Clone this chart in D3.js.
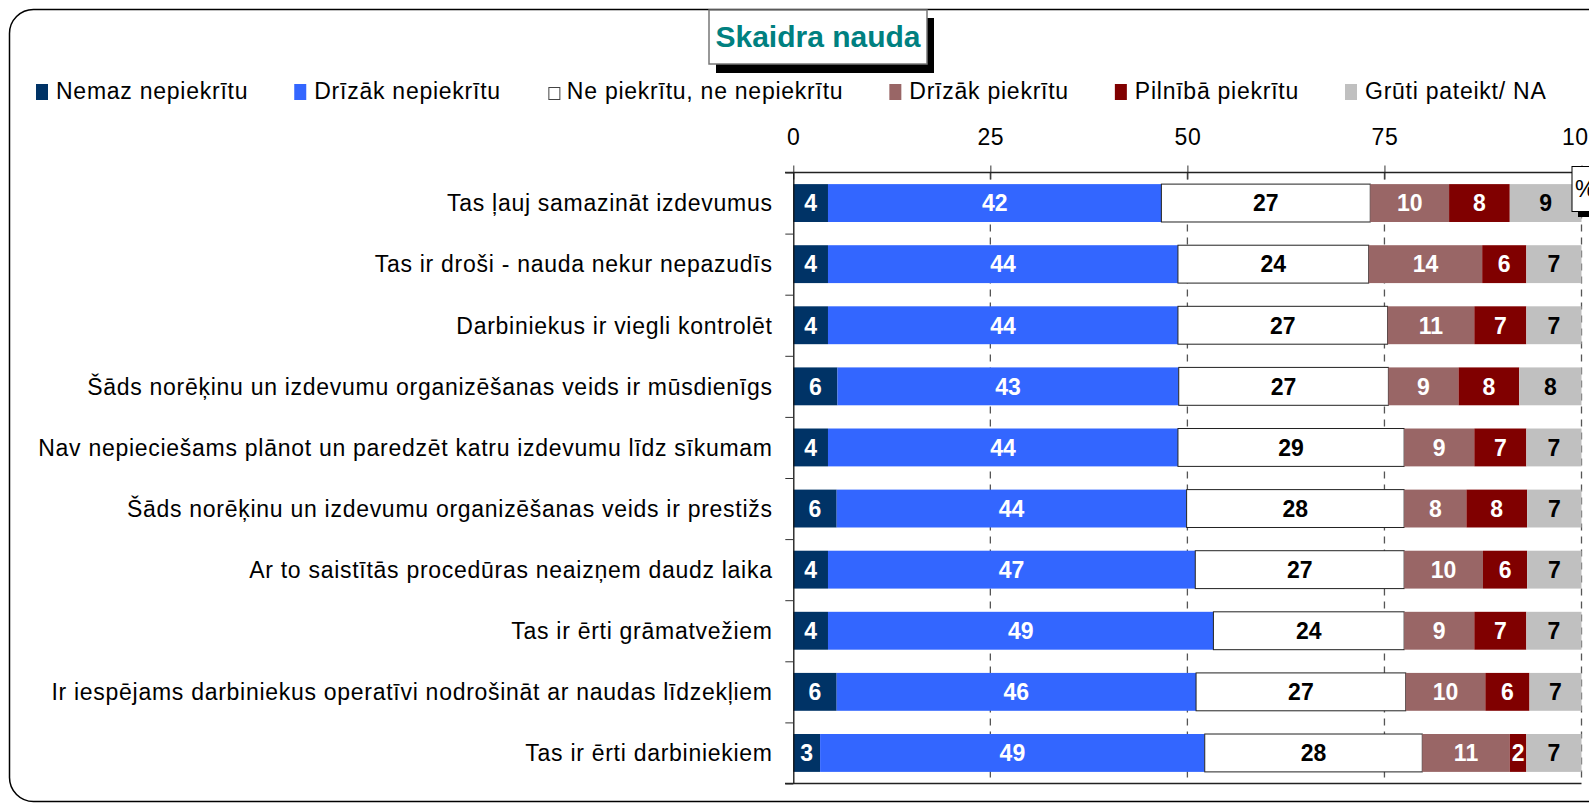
<!DOCTYPE html>
<html>
  <head>
    <meta charset="utf-8">
    <script src="https://d3js.org/d3.v7.min.js"></script>
    <style>
      body { margin: 0; background: #fff; }
      text { font-family: "Liberation Sans", Arial, sans-serif; }
    </style>
  </head>
  <body>
    <script>
      // data (bar lengths in %, labels are the rounded values)
      var categories = [
        "Tas ļauj samazināt izdevumus",
        "Tas ir droši - nauda nekur nepazudīs",
        "Darbiniekus ir viegli kontrolēt",
        "Šāds norēķinu un izdevumu organizēšanas veids ir mūsdienīgs",
        "Nav nepieciešams plānot un paredzēt katru izdevumu līdz sīkumam",
        "Šāds norēķinu un izdevumu organizēšanas veids ir prestižs",
        "Ar to saistītās procedūras neaizņem daudz laika",
        "Tas ir ērti grāmatvežiem",
        "Ir iespējams darbiniekus operatīvi nodrošināt ar naudas līdzekļiem",
        "Tas ir ērti darbiniekiem"
      ];
      var seriesNames = ["Nemaz nepiekrītu", "Drīzāk nepiekrītu", "Ne piekrītu, ne nepiekrītu",
                         "Drīzāk piekrītu", "Pilnībā piekrītu", "Grūti pateikt/ NA"];
      var nemaz    = [4.4, 4.4, 4.4, 5.6, 4.4, 5.5, 4.4, 4.4, 5.5, 3.4];
      var drizakNe = [42.3, 44.4, 44.4, 43.3, 44.4, 44.4, 46.6, 48.9, 45.6, 48.8];
      var neNe     = [26.5, 24.2, 26.6, 26.6, 28.7, 27.6, 26.5, 24.2, 26.6, 27.6];
      var drizakJa = [10.0, 14.4, 11.0, 8.9, 8.9, 7.9, 10.0, 8.9, 10.1, 11.1];
      var pilniba  = [7.7, 5.6, 6.6, 7.7, 6.6, 7.7, 5.6, 6.6, 5.6, 2.1];
      var gruti    = [9.1, 7.0, 7.0, 7.9, 7.0, 6.9, 6.9, 7.0, 6.6, 7.0];
      var tickValues = [0, 0.25, 0.5, 0.75, 1];
      var tickLabels = ["0", "25", "50", "75", "100"];

      var colors = ["#003366", "#3366FF", "#FFFFFF", "#996666", "#800000", "#C0C0C0"];
      var labelColors = ["#fff", "#fff", "#000", "#fff", "#fff", "#000"];

      var width = 1589
      var height = 803

      var svg = d3.select("body").append("svg")
        .attr("width", width)
        .attr("height", height);

      // outer rounded frame
      svg.append("rect")
        .attr("x", 9.5).attr("y", 9.5)
        .attr("width", 1640).attr("height", 792)
        .attr("rx", 24)
        .attr("fill", "white")
        .style("stroke", "black")
        .style("stroke-width", 1.5);

      // rows for the stack
      var series = [nemaz, drizakNe, neNe, drizakJa, pilniba, gruti];
      var rows = categories.map(function(c, i) {
        var r = { cat: c };
        seriesNames.forEach(function(s, j) { r[s] = series[j][i]; });
        return r;
      });
      var stacked = d3.stack().keys(seriesNames).offset(d3.stackOffsetExpand)(rows);

      var x = d3.scaleLinear().domain([0, 1]).range([793.3, 1581.5]);
      var y = d3.scaleBand().domain(categories).range([172.5, 783.5])
        .paddingInner(0.38).paddingOuter(0.19);
      var yEdge = d3.scaleLinear().domain([0, categories.length]).range([172.5, 783.5]);

      // dashed gridlines
      svg.append("g").selectAll("line")
        .data(tickValues.slice(1))
        .join("line")
        .attr("x1", d => x(d)).attr("x2", d => x(d))
        .attr("y1", 172.5).attr("y2", 783.5)
        .style("stroke", "#555")
        .style("stroke-width", 1.3)
        .style("stroke-dasharray", "7,6");

      // bars
      var layer = svg.append("g").selectAll("g")
        .data(stacked)
        .join("g")
        .attr("fill", (d, i) => colors[i]);

      layer.selectAll("rect")
        .data(d => d)
        .join("rect")
        .attr("x", d => x(d[0]))
        .attr("y", d => y(d.data.cat))
        .attr("width", d => x(d[1]) - x(d[0]))
        .attr("height", y.bandwidth())
        .style("stroke", function() {
          return d3.select(this.parentNode).datum().key === seriesNames[2] ? "#222" : "none";
        })
        .style("stroke-width", 1);

      // value labels
      layer.selectAll("text")
        .data((d, i) => d.map(v => ({ v: v, i: i, key: d.key })))
        .join("text")
        .attr("x", d => (x(d.v[0]) + x(d.v[1])) / 2)
        .attr("y", d => y(d.v.data.cat) + y.bandwidth() / 2)
        .attr("dy", "0.36em")
        .attr("text-anchor", "middle")
        .style("font-size", "23px")
        .style("font-weight", "bold")
        .attr("fill", d => labelColors[d.i])
        .text(d => Math.round(d.v.data[d.key]));

      // top axis with crossing ticks
      var topAxis = svg.append("g")
        .attr("transform", "translate(0,172.5)")
        .call(d3.axisTop(x).tickValues(tickValues).tickSizeOuter(0)
          .tickFormat((d, i) => tickLabels[i]));
      topAxis.select(".domain").remove();
      topAxis.selectAll(".tick line").attr("y1", 7).attr("y2", -7).style("stroke", "#333");
      topAxis.selectAll(".tick text")
        .attr("y", -28).attr("dy", 0)
        .style("font-size", "23px")
        .style("letter-spacing", "0.6px")
        .style("font-family", "Liberation Sans, Arial, sans-serif")
        .attr("fill", "#000");
      svg.append("line")
        .attr("x1", 785).attr("x2", 1575)
        .attr("y1", 172.5).attr("y2", 172.5)
        .style("stroke", "#222").style("stroke-width", 1.3);

      // left axis with ticks on category edges
      var leftAxis = svg.append("g")
        .attr("transform", "translate(793.3,0)")
        .call(d3.axisLeft(yEdge).ticks(categories.length).tickSize(8).tickSizeOuter(0).tickFormat(""));
      leftAxis.select(".domain").style("stroke", "#111").style("stroke-width", 1.3);
      leftAxis.selectAll(".tick line").style("stroke", "#333");

      // bottom line
      svg.append("line")
        .attr("x1", 785).attr("x2", x(1))
        .attr("y1", 783.5).attr("y2", 783.5)
        .style("stroke", "#222").style("stroke-width", 1.5);

      // category labels (letter-spaced like the original)
      svg.append("g").selectAll("text")
        .data(categories)
        .join("text")
        .attr("x", 772.7)
        .attr("y", d => y(d) + y.bandwidth() / 2)
        .attr("dy", "0.36em")
        .attr("text-anchor", "end")
        .style("font-size", "23px")
        .style("letter-spacing", "0.72px")
        .attr("fill", "#000")
        .text(d => d);

      // "%" box at the axis end
      svg.append("rect")
        .attr("x", 1578).attr("y", 172)
        .attr("width", 40).attr("height", 45)
        .attr("fill", "black");
      svg.append("rect")
        .attr("x", 1572).attr("y", 166.5)
        .attr("width", 40).attr("height", 45)
        .attr("fill", "white")
        .style("stroke", "black").style("stroke-width", 1);
      svg.append("text")
        .attr("x", 1575).attr("y", 197)
        .style("font-size", "23px")
        .text("%");

      // legend
      var legend = svg.append("g");
      var lx = 36;
      seriesNames.forEach(function(name, i) {
        if (i === 2) {
          legend.append("rect")
            .attr("x", lx + 2).attr("y", 87.5).attr("width", 11).attr("height", 12)
            .attr("fill", "white").style("stroke", "#444").style("stroke-width", 1);
        } else {
          legend.append("rect")
            .attr("x", lx).attr("y", 84).attr("width", 12).attr("height", 16)
            .attr("fill", colors[i]);
        }
        var t = legend.append("text")
          .attr("x", lx + 20).attr("y", 99)
          .style("font-size", "23px")
          .style("letter-spacing", "0.75px")
          .text(name);
        lx = lx + 20 + t.node().getComputedTextLength() + 46;
      });

      // title box with shadow
      svg.append("rect")
        .attr("x", 716).attr("y", 18)
        .attr("width", 218).attr("height", 55)
        .attr("fill", "black");
      svg.append("rect")
        .attr("x", 709).attr("y", 10)
        .attr("width", 218).attr("height", 54)
        .attr("fill", "white")
        .style("stroke", "#777").style("stroke-width", 1.5);
      svg.append("text")
        .attr("x", 818).attr("y", 47)
        .attr("text-anchor", "middle")
        .style("font-size", "30px")
        .style("font-weight", "bold")
        .attr("fill", "#008080")
        .text("Skaidra nauda");
    </script>
  </body>
</html>
